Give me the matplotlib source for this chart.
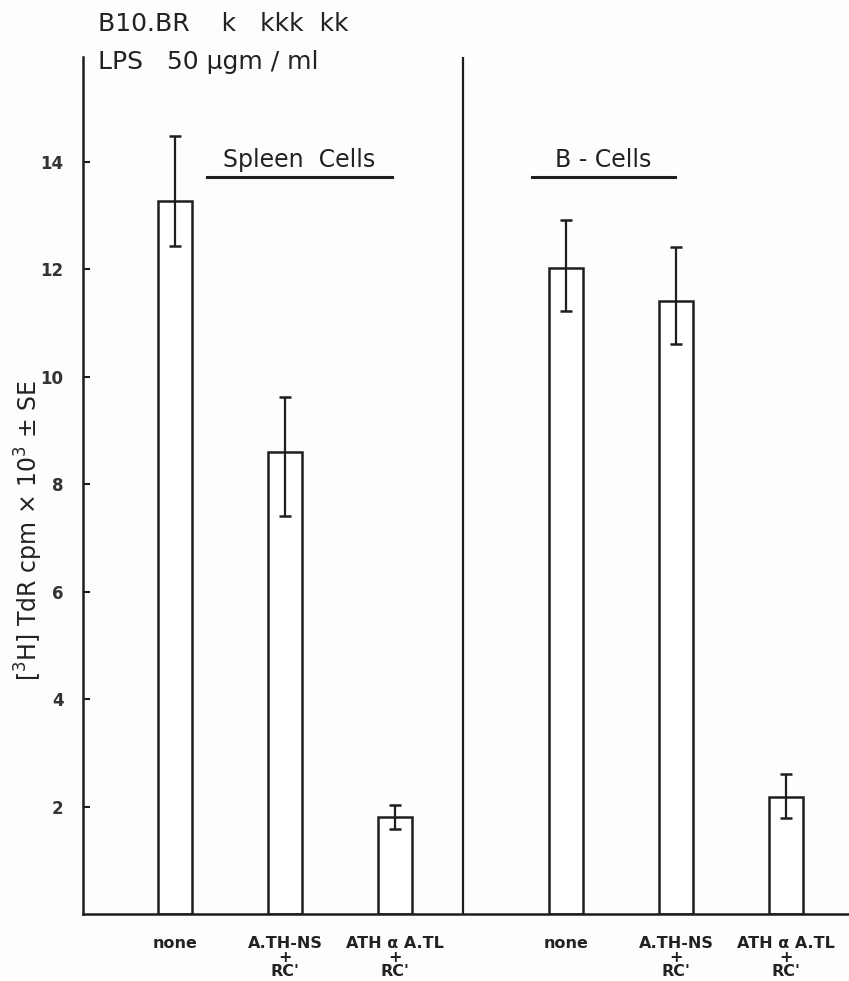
import matplotlib
matplotlib.use('Agg')
import matplotlib.pyplot as plt
import numpy as np

# values (x 10^3 cpm)
groups = ['Spleen  Cells', 'B - Cells']
treatments = ['none', "A.TH-NS\n+\nRC'", "ATH \u03b1 A.TL\n+\nRC'"]
spleen_mean = [13.27, 8.59, 1.81]
spleen_err_lo = [0.84, 1.19, 0.23]
spleen_err_hi = [1.21, 1.04, 0.22]
bcell_mean = [12.02, 11.40, 2.18]
bcell_err_lo = [0.80, 0.80, 0.39]
bcell_err_hi = [0.89, 1.01, 0.43]
yticks = [2, 4, 6, 8, 10, 12, 14]

ink = '#1e1e1e'
plt.rcParams['font.family'] = ['DejaVu Sans']

fig = plt.figure(figsize=(8.49, 9.81), dpi=100)
fig.patch.set_facecolor('#fdfdfb')
ax = fig.add_axes([83 / 849, 1 - 914 / 981, 1 - 83 / 849, (914 - 57) / 981])
ax.set_facecolor('#fdfdfb')

# x in pixel-like units so the layout is easy to match
spacing = 110
group_start = [175, 566]
bar_w = 34
divider = 463

all_means = [spleen_mean, bcell_mean]
all_lo = [spleen_err_lo, bcell_err_lo]
all_hi = [spleen_err_hi, bcell_err_hi]
xpos = []
for g in range(2):
    x = group_start[g] + spacing * np.arange(len(treatments))
    xpos.extend(x)
    ax.bar(x, all_means[g], width=bar_w, facecolor='white', edgecolor=ink,
           linewidth=1.8, zorder=2)
    ax.errorbar(x, all_means[g], yerr=[all_lo[g], all_hi[g]], fmt='none',
                ecolor=ink, elinewidth=1.6, capsize=4, capthick=1.8, zorder=3)

ax.axvline(divider, color=ink, linewidth=1.6)

ax.set_xlim(83, 849)
ax.set_ylim(0, 15.95)

ax.spines['top'].set_visible(False)
ax.spines['right'].set_visible(False)
for s in ['left', 'bottom']:
    ax.spines[s].set_linewidth(1.8)
    ax.spines[s].set_color(ink)

ax.set_yticks(yticks)
ax.set_yticklabels([str(t) for t in yticks], fontsize=12, fontweight='bold', color='#333333')
ax.tick_params(axis='y', direction='in', length=5, width=1.5, color=ink, pad=14)

ax.set_xticks(xpos)
ax.set_xticklabels(treatments * 2, fontsize=11.5, fontweight='bold', color='#222222',
                   linespacing=0.9)
ax.tick_params(axis='x', length=0, pad=16)

ax.set_ylabel('[$^3$H] TdR cpm $\\times$ 10$^3$ $\\pm$ SE', fontsize=17, color='#222222')
ax.yaxis.set_label_coords(-0.05, 0.448)

# group headings with underline
head_x = [(207, 392), (532, 675)]
for name, (x0, x1) in zip(groups, head_x):
    ax.text((x0 + x1) / 2, 13.9, name, ha='center', va='baseline', fontsize=17,
            color='#222222')
    ax.plot([x0, x1], [13.71, 13.71], color=ink, linewidth=2.2, clip_on=False)

fig.text(98 / 849, 1 - 24 / 981, 'B10.BR    k   kkk  kk', fontsize=18, color='#222222',
         va='center', ha='left')
fig.text(98 / 849, 1 - 62 / 981, 'LPS   50 \u03bcgm / ml', fontsize=18, color='#222222',
         va='center', ha='left')

fig.savefig('out.png', dpi=100, facecolor=fig.get_facecolor())
